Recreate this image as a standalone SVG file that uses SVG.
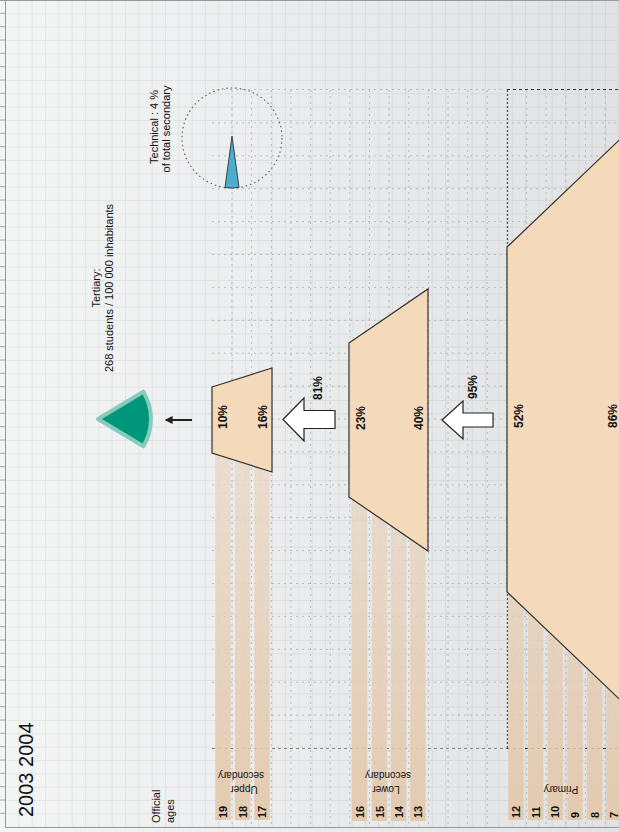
<svg xmlns="http://www.w3.org/2000/svg" width="619" height="832" viewBox="0 0 619 832">
<defs>
<linearGradient id="bg" x1="0" y1="0" x2="1" y2="0">
<stop offset="0" stop-color="#f4f5f5"/>
<stop offset="1" stop-color="#e1e2e4"/>
</linearGradient>
<linearGradient id="barg" gradientUnits="userSpaceOnUse" x1="0" y1="450" x2="0" y2="820">
<stop offset="0" stop-color="#e8d8c6" stop-opacity="0.75"/>
<stop offset="1" stop-color="#e3c7a9" stop-opacity="0.9"/>
</linearGradient>
<pattern id="fine" patternUnits="userSpaceOnUse" x="5" y="0" width="13.333" height="13.333">
<path d="M0 0.5H13.333M0.5 0V13.333" fill="none" stroke="#000" stroke-opacity="0.06" stroke-width="1"/>
</pattern>
<marker id="ah" viewBox="0 0 10 10" refX="2" refY="5" markerWidth="4" markerHeight="4" orient="auto">
<path d="M0 0L10 5L0 10z" fill="#222"/>
</marker>
<style>
.dot{fill:none;stroke:#bbb;stroke-width:1;stroke-dasharray:2 4}
.dark{fill:none;stroke:#333;stroke-width:1.2;stroke-dasharray:3 3}
.bar{fill:url(#barg)}
.trap{fill:#f4d9bb;stroke:#333;stroke-width:1.2}
.hollow{fill:#fff;stroke:#222;stroke-width:1.2}
.t{font-family:"Liberation Sans",Arial,sans-serif;fill:#111}
.pct{font-size:12px;font-weight:bold}
.age{font-size:11px;font-weight:bold}
.lbl{font-size:10px}
.note{font-size:11px}
</style>
</defs>

<g id="background">
<rect x="0" y="0" width="619" height="832" fill="url(#bg)"/>
<rect x="5" y="0" width="614" height="827" fill="url(#fine)"/>
<path d="M5.5 0V827.5H619M0 0.5H619" fill="none" stroke="#999" stroke-width="1"/>
<path d="M0 13.3H5M0 26.7H5M0 40H5M0 53.3H5M0 66.7H5M0 80H5M0 93.3H5M0 106.7H5M0 120H5M0 133.3H5M0 146.7H5M0 160H5M0 173.3H5M0 186.7H5M0 200H5M0 213.3H5M0 226.7H5M0 240H5M0 253.3H5M0 266.7H5M0 280H5M0 293.3H5M0 306.7H5M0 320H5M0 333.3H5M0 346.7H5M0 360H5M0 373.3H5M0 386.7H5M0 400H5M0 413.3H5M0 426.7H5M0 440H5M0 453.3H5M0 466.7H5M0 480H5M0 493.3H5M0 506.7H5M0 520H5M0 533.3H5M0 546.7H5M0 560H5M0 573.3H5M0 586.7H5M0 600H5M0 613.3H5M0 626.7H5M0 640H5M0 653.3H5M0 666.7H5M0 680H5M0 693.3H5M0 706.7H5M0 720H5M0 733.3H5M0 746.7H5M0 760H5M0 773.3H5M0 786.7H5M0 800H5M0 813.3H5" stroke="#aaa" stroke-width="1"/>
</g>

<g id="dotted-grid">
<path class="dot" d="M212 89.5H507M212 122.9H619M212 155.8H619M212 188.7H619M212 221.6H619M212 254.5H619M212 287.4H619M212 320.3H619M212 353.2H619M212 386.1H619M212 419H619M212 451.9H619M212 484.8H619M212 517.7H619M212 550.6H619M212 583.5H619M212 616.4H619M212 649.3H619M212 682.2H619M212 715.1H619"/>
<path class="dot" d="M232 90V827M251.6 90V827M271.3 90V827M290.9 90V827M310.6 90V827M330.2 90V827M349.8 90V827M369.5 90V827M389.1 90V827M408.8 90V827M428.4 90V827M448 90V827M467.7 90V827M487.3 90V827M526.6 90V827M546.2 90V827M565.9 90V827M585.5 90V827M605.2 90V827"/>
<path d="M212 748.5H507" fill="none" stroke="#888" stroke-width="1" stroke-dasharray="3 3"/>
<path class="dark" d="M507 89.5H619M507 748.5H619"/>
<path d="M507.5 90V748" fill="none" stroke="#555" stroke-width="1.4" stroke-dasharray="2 2"/>
</g>

<g id="age-bars">
<rect class="bar" x="215.2" y="400" width="15.5" height="420"/>
<rect class="bar" x="234.8" y="400" width="15.5" height="420"/>
<rect class="bar" x="254.2" y="400" width="15.5" height="420"/>
<rect class="bar" x="351.8" y="400" width="15.5" height="421"/>
<rect class="bar" x="371.7" y="400" width="15.5" height="421"/>
<rect class="bar" x="390.8" y="400" width="15.5" height="421"/>
<rect class="bar" x="410.2" y="400" width="15.5" height="421"/>
<rect class="bar" x="508.2" y="400" width="15.5" height="420"/>
<rect class="bar" x="527.9" y="400" width="15.5" height="420"/>
<rect class="bar" x="547.5" y="400" width="15.5" height="420"/>
<rect class="bar" x="567.2" y="400" width="15.5" height="420"/>
<rect class="bar" x="586.8" y="400" width="15.5" height="420"/>
<rect class="bar" x="606.4" y="400" width="15.5" height="420"/>
</g>

<g id="upper-secondary">
<polygon class="trap" points="212,387 272,368 272,472 212,453"/>
<text class="t pct" transform="translate(227,417) rotate(-90)" text-anchor="middle">10%</text>
<text class="t pct" transform="translate(267,417) rotate(-90)" text-anchor="middle">16%</text>
</g>

<g id="lower-secondary">
<polygon class="trap" points="349,343 428,289 428,551 349,497"/>
<text class="t pct" transform="translate(365,418) rotate(-90)" text-anchor="middle">23%</text>
<text class="t pct" transform="translate(423,418) rotate(-90)" text-anchor="middle">40%</text>
</g>

<g id="primary">
<polygon class="trap" points="507,247 700,63 700,776 507,592"/>
<text class="t pct" transform="translate(523,416) rotate(-90)" text-anchor="middle">52%</text>
<text class="t pct" transform="translate(617,416) rotate(-90)" text-anchor="middle">86%</text>
</g>

<g id="tertiary">
<path d="M98 419L143.4 391.7A53 53 0 0 1 143.4 446.3Z" fill="#00967b" stroke="#86cbbb" stroke-width="4" stroke-linejoin="round"/>
<text class="t note" transform="translate(100,288) rotate(-90)" text-anchor="middle">Tertiary:</text>
<text class="t note" transform="translate(113,288) rotate(-90)" text-anchor="middle">268  students / 100 000 inhabitants</text>
</g>

<g id="technical">
<circle cx="232" cy="138" r="50" fill="none" stroke="#666" stroke-width="1.2" stroke-dasharray="1.5 3"/>
<path d="M232 136L239 187.5A50 50 0 0 1 225 187.5Z" fill="#4cadd0" stroke="#222" stroke-width="0.8" stroke-linejoin="round"/>
<text class="t note" transform="translate(158,127) rotate(-90)" text-anchor="middle">Technical : 4 %</text>
<text class="t note" transform="translate(170,129) rotate(-90)" text-anchor="middle">of total secondary</text>
</g>

<g id="connectors">
<line x1="192" y1="420" x2="171" y2="420" stroke="#222" stroke-width="2" marker-end="url(#ah)"/>
<polygon class="hollow" points="283,419.5 304,398 304,410.5 335,410.5 335,428.5 304,428.5 304,441"/>
<polygon class="hollow" points="442,420 463,401 463,413 493,413 493,427 463,427 463,439"/>
<text class="t pct" transform="translate(322,388) rotate(-90)" text-anchor="middle">81%</text>
<text class="t pct" transform="translate(477,387) rotate(-90)" text-anchor="middle">95%</text>
</g>

<g id="labels">
<text class="t" font-size="20" transform="translate(33,817) rotate(-90)">2003 2004</text>
<text class="t note" transform="translate(160,823) rotate(-90)">Official</text>
<text class="t note" transform="translate(173.5,823) rotate(-90)">ages</text>
<text class="t age" transform="translate(227,818) rotate(-90)">19</text>
<text class="t age" transform="translate(246.5,818) rotate(-90)">18</text>
<text class="t age" transform="translate(266,818) rotate(-90)">17</text>
<text class="t age" transform="translate(363.5,818) rotate(-90)">16</text>
<text class="t age" transform="translate(383.5,818) rotate(-90)">15</text>
<text class="t age" transform="translate(402.5,818) rotate(-90)">14</text>
<text class="t age" transform="translate(422,818) rotate(-90)">13</text>
<text class="t age" transform="translate(520,818) rotate(-90)">12</text>
<text class="t age" transform="translate(539.7,818) rotate(-90)">11</text>
<text class="t age" transform="translate(559.3,818) rotate(-90)">10</text>
<text class="t age" transform="translate(579,818) rotate(-90)">9</text>
<text class="t age" transform="translate(598.6,818) rotate(-90)">8</text>
<text class="t age" transform="translate(618.2,818) rotate(-90)">7</text>
<text class="t lbl" transform="translate(244,786) rotate(180)" text-anchor="middle">Upper</text>
<text class="t lbl" transform="translate(241,772) rotate(180)" text-anchor="middle">secondary</text>
<text class="t lbl" transform="translate(386,786) rotate(180)" text-anchor="middle">Lower</text>
<text class="t lbl" transform="translate(388,772) rotate(180)" text-anchor="middle">secondary</text>
<text class="t lbl" transform="translate(561,786) rotate(180)" text-anchor="middle">Primary</text>
</g>
</svg>
